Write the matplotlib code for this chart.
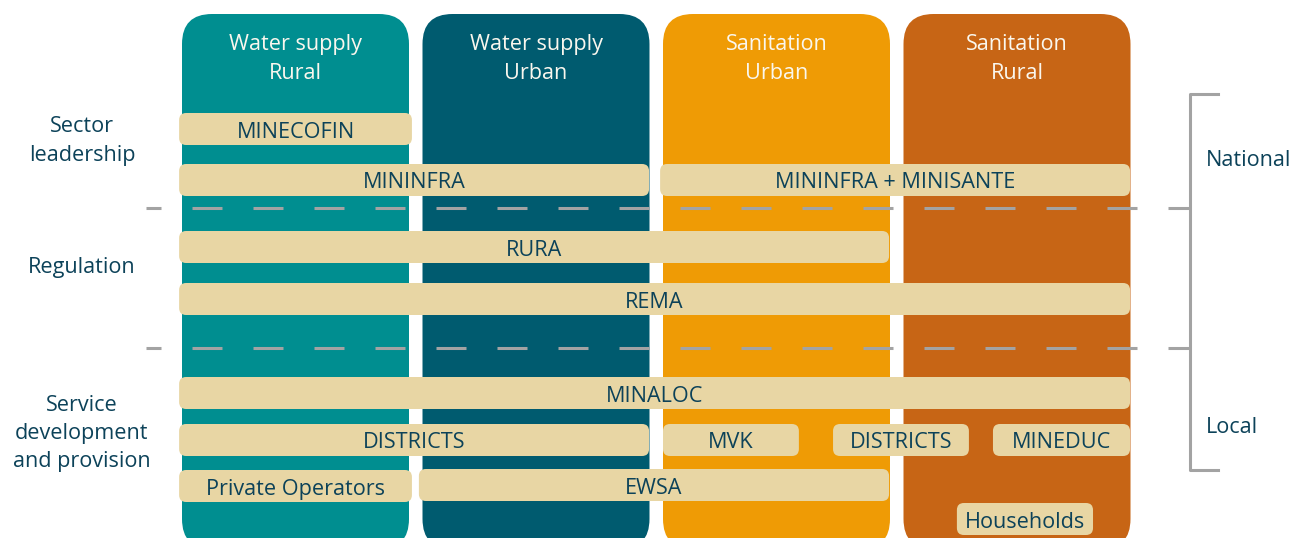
import matplotlib
matplotlib.use("Agg")
import matplotlib.pyplot as plt
from matplotlib.patches import FancyBboxPatch
from matplotlib.lines import Line2D

# ---- content ----
columns = ["Water supply\nRural", "Water supply\nUrban", "Sanitation\nUrban", "Sanitation\nRural"]
column_colors = ["#008E90", "#005B6F", "#EF9B05", "#C76515"]

levels = ["Sector\nleadership", "Regulation", "Service\ndevelopment\nand provision"]
scopes = ["National", "Local"]

# actors: label, row centre (px), span start / end in column units
actor_labels = ["MINECOFIN", "MININFRA", "MININFRA + MINISANTE", "RURA", "REMA",
                "MINALOC", "DISTRICTS", "MVK", "DISTRICTS", "MINEDUC",
                "Private Operators", "EWSA", "Households"]
actor_rows = [129, 180, 180, 247, 299, 393, 440, 440, 440, 440, 486, 485, 519]
actor_start = [-0.012, -0.012, 1.988, -0.012, -0.012, -0.012, -0.012, 2.0, 2.707, 3.372, -0.012, 0.985, 3.222]
actor_end = [0.956, 1.942, 3.942, 2.940, 3.942, 3.942, 1.942, 2.565, 3.272, 3.942, 0.956, 2.940, 3.788]

# ---- style ----
W, H = 1295, 538
X0, PITCH, COLW = 182, 240.5, 227
TXT = "#0C4259"
PILL = "#E8D6A4"
GREY = "#A3A3A3"
FONT = "Open Sans"
FS = 15.6
FW = "medium"

fig = plt.figure(figsize=(W / 100, H / 100), dpi=100)
ax = fig.add_axes([0, 0, 1, 1])
ax.set_xlim(0, W)
ax.set_ylim(H, 0)
ax.axis("off")

def cx(c):
    return X0 + PITCH * c

# columns
for i, (name, col) in enumerate(zip(columns, column_colors)):
    left = cx(i)
    ax.add_patch(FancyBboxPatch((left, 14), COLW, 535, boxstyle="round,pad=0,rounding_size=30",
                                fc=col, ec="none", zorder=1))
    for j, line in enumerate(name.split("\n")):
        ax.text(left + COLW / 2, 50 + 29 * j, line, ha="center", va="baseline",
                color="#FAF7EE", fontsize=FS, family=FONT, fontweight=FW, zorder=5)

# dashed separators
LW = 2.2
k = 0.72 / LW
for y in (208, 348):
    ax.add_line(Line2D([146, 1190], [y, y], color=GREY, lw=LW,
                       linestyle=(15 * k, (30 * k, 31 * k)), dash_capstyle="butt", zorder=2))

# actor pills
for lab, y, s, e in zip(actor_labels, actor_rows, actor_start, actor_end):
    x1, x2 = cx(s), cx(e)
    ax.add_patch(FancyBboxPatch((x1, y - 16), x2 - x1, 32, boxstyle="round,pad=0,rounding_size=7",
                                fc=PILL, ec="none", zorder=3))
    ax.text((x1 + x2) / 2, y + 8.5, lab, ha="center", va="baseline", color=TXT,
            fontsize=FS, family=FONT, fontweight=FW, zorder=4)

# level labels
level_y = [[132, 161], [273], [411, 439, 467]]
for lab, ys in zip(levels, level_y):
    for line, y in zip(lab.split("\n"), ys):
        ax.text(82, y, line, ha="center", va="baseline", color=TXT, fontsize=FS,
                family=FONT, fontweight=FW)

# right bracket
ax.add_line(Line2D([1218, 1190, 1190, 1218], [94, 94, 470, 470], color=GREY, lw=LW, zorder=2))
ax.text(1206, 166, scopes[0], ha="left", va="baseline", color=TXT, fontsize=FS, family=FONT, fontweight=FW)
ax.text(1206, 433, scopes[1], ha="left", va="baseline", color=TXT, fontsize=FS, family=FONT, fontweight=FW)

fig.savefig("out.png", dpi=100, facecolor="white")
